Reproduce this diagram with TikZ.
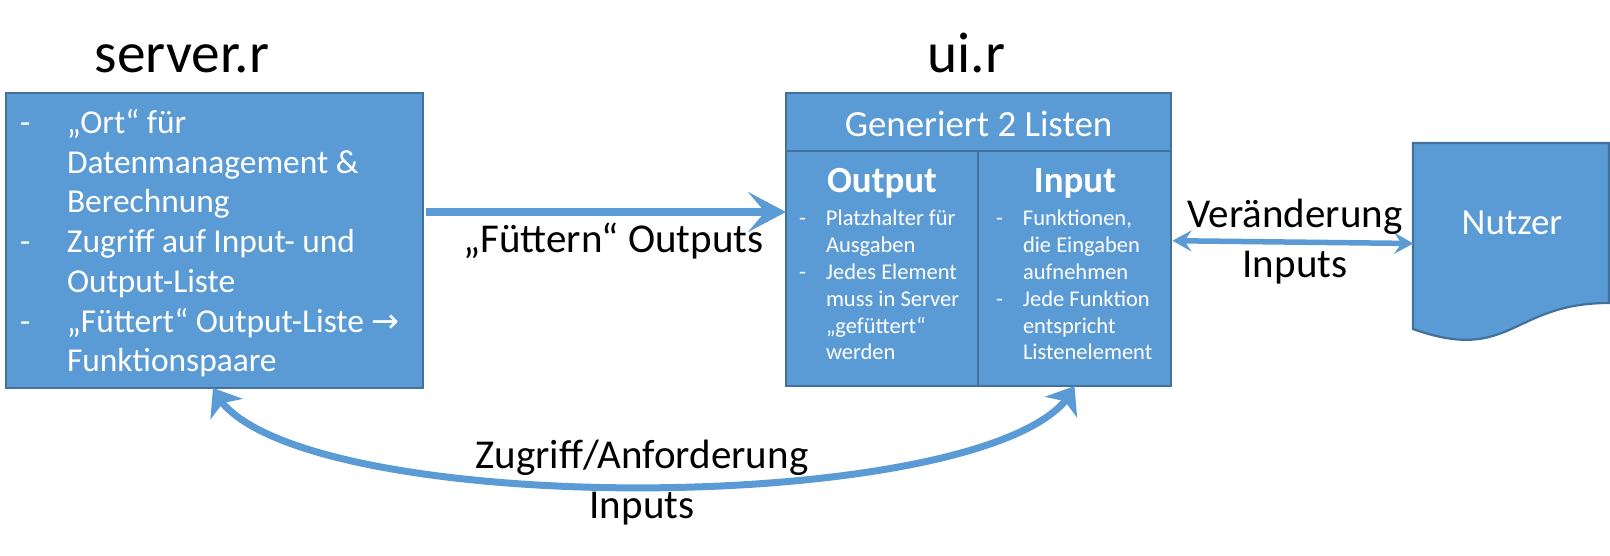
\documentclass[tikz,border=0pt]{standalone}
\usepackage{fontspec}
\setmainfont{Carlito}
\newfontfamily\arrowfont{DejaVu Sans}
\usetikzlibrary{arrows.meta,bending}
\definecolor{fillblue}{HTML}{5B9BD5}
\definecolor{edgeblue}{HTML}{41719C}
\newcommand\setfs[2]{\fontsize{#1}{#2}\selectfont}
\begin{document}
\begin{tikzpicture}[x=1pt,y=-1pt,
  box/.style={draw=edgeblue, line width=2.2pt, fill=fillblue, inner sep=0pt, outer sep=0pt},
  wtext/.style={text=white, inner sep=0pt, outer sep=0pt},
  btext/.style={text=black, inner sep=0pt, outer sep=0pt},
  bigtip/.tip={Stealth[length=38pt,width=40pt,inset=17pt]},
  curvetip/.tip={Stealth[length=25pt,width=38pt,inset=7pt]},
  smalltip/.tip={Stealth[length=19pt,width=21pt,inset=7pt]},
  feedarrow/.style={draw=fillblue, line width=8pt, -bigtip},
  curvearrow/.style={draw=fillblue, line width=7pt, curvetip-curvetip},
  userarrow/.style={draw=fillblue, line width=5.5pt, smalltip-smalltip}]
\useasboundingbox (0,0) rectangle (1610,556);

% titles
\node[btext, anchor=base, font=\setfs{57.4}{68}] (ttlserver) at (182,73) {server.r};
\node[btext, anchor=base, font=\setfs{57.4}{68}] (ttlui) at (966.5,73) {ui.r};

% server box
\node[box, minimum width=417pt, minimum height=295pt] (server) at (214.5,240.5) {};
\node[wtext, anchor=base west] (servertext) at (20,133.3) {\parbox[t]{500pt}{\setfs{33.4}{39.75}%
\hangindent=47pt\hangafter=1\makebox[47pt][l]{-}„Ort“ für\\Datenmanagement \&\\Berechnung\par
\hangindent=47pt\hangafter=1\makebox[47pt][l]{-}Zugriff auf Input- und\\Output-Liste\par
\hangindent=47pt\hangafter=1\makebox[47pt][l]{-}„Füttert“ Output-Liste {\arrowfont →}\\Funktionspaare\par}};

% ui box
\node[box, minimum width=385pt, minimum height=58pt] (uihead) at (978.5,122) {};
\node[box, minimum width=192pt, minimum height=235pt] (uiout) at (882,268.5) {};
\node[box, minimum width=193pt, minimum height=235pt] (uiin) at (1074.5,268.5) {};
\node[wtext, anchor=base, font=\setfs{36.9}{44}] (headtext) at (978.5,137) {Generiert 2 Listen};
\node[wtext, anchor=base, font=\setfs{36.9}{44}\bfseries] (outtitle) at (882,193) {Output};
\node[wtext, anchor=base, font=\setfs{36.9}{44}\bfseries] (intitle) at (1075,193) {Input};
\node[wtext, anchor=base west] (outtext) at (799,225.7) {\parbox[t]{300pt}{\setfs{22.5}{26.85}%
\hangindent=27pt\hangafter=1\makebox[27pt][l]{-}Platzhalter für\\Ausgaben\par
\hangindent=27pt\hangafter=1\makebox[27pt][l]{-}Jedes Element\\muss in Server\\„gefüttert“\\werden\par}};
\node[wtext, anchor=base west] (intext) at (996,225.7) {\parbox[t]{300pt}{\setfs{22.5}{26.85}%
\hangindent=27pt\hangafter=1\makebox[27pt][l]{-}Funktionen,\\die Eingaben\\aufnehmen\par
\hangindent=27pt\hangafter=1\makebox[27pt][l]{-}Jede Funktion\\entspricht\\Listenelement\par}};

% Nutzer (document shape)
\draw[box] (1413,143) -- (1609,143) -- (1609,303) .. controls (1511,303) and (1511,364) .. (1413,329) -- cycle;
\node[wtext, anchor=base, font=\setfs{36.9}{44}] (nutzer) at (1512,235) {Nutzer};
\coordinate (nutzerL) at (1413.3,243.5);

% connectors
\coordinate (fut) at (600,212);
\draw[feedarrow] ([xshift=2.5pt]server.east |- fut) -- (uiout.west |- fut);
\node[btext, anchor=base, font=\setfs{41}{50}] (futlabel) at (613.5,253) {„Füttern“ Outputs};

\draw[userarrow] ([xshift=1.5pt]uiin.east |- 0,240.7) -- (nutzerL);
\node[btext, anchor=base] (verlabel) at (1295,228) {\parbox[t]{300pt}{\centering\setfs{41}{50}Veränderung\\Inputs}};

\draw[curvearrow] ([xshift=-1.5pt]server.south) .. controls (268,523) and (1020,520) .. (uiin.south);
\node[btext, anchor=base] (zuglabel) at (642,468) {\parbox[t]{400pt}{\centering\setfs{41}{50}Zugriff/Anforderung\\Inputs}};
\end{tikzpicture}
\end{document}
